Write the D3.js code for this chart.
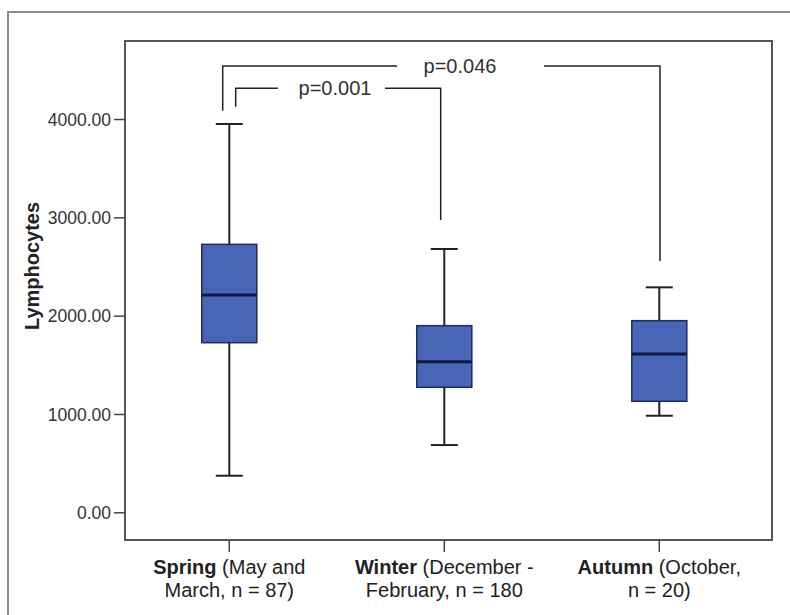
<!DOCTYPE html>
<html>
<head>
<meta charset="utf-8">
<script src="https://cdn.jsdelivr.net/npm/d3@7"></script>
<style>
  html, body { margin: 0; padding: 0; background: #fff; }
  svg { display: block; font-family: "Liberation Sans", Arial, sans-serif; }
</style>
</head>
<body>
<svg id="chart" width="790" height="615"></svg>
<script>
// ---- Data ----
const categories = ["Spring", "Winter", "Autumn"];
const labelBold = ["Spring", "Winter", "Autumn"];
const labelLine1Rest = [" (May and", " (December -", " (October,"];
const labelLine2 = ["March, n = 87)", "February, n = 180", "n = 20)"];
const whiskerLow = [372, 684, 982];
const q1 = [1725, 1271, 1129];
const median = [2210, 1532, 1610];
const q3 = [2725, 1898, 1949];
const whiskerHigh = [3949, 2678, 2288];
const yTicks = [0, 1000, 2000, 3000, 4000];
const yLabel = "Lymphocytes";
// comparisons: from category, to category, p label, bracket top value, leg end values
const cmpFrom = ["Spring", "Spring"];
const cmpTo = ["Winter", "Autumn"];
const cmpText = ["p=0.001", "p=0.046"];
const cmpTop = [4312, 4539];
const cmpFromEnd = [4125, 4084];
const cmpToEnd = [2973, 2556];

// ---- Layout ----
const svg = d3.select("#chart");
const plot = { left: 125, right: 772, top: 41, bottom: 540 };

const y = d3.scaleLinear().domain([0, 4000]).range([512.3, 119]);
const x = d3.scaleBand().domain(categories).range([121.8, 766.8]).paddingInner(0).paddingOuter(0);
const cx = c => x(c) + x.bandwidth() / 2;
const boxW = 55;
const capW = 27;

// outer frame
svg.append("path")
  .attr("d", "M8,615 V12 H790")
  .attr("fill", "none").attr("stroke", "#8a8a8a").attr("stroke-width", 2);

// plot frame
svg.append("rect")
  .attr("x", plot.left).attr("y", plot.top)
  .attr("width", plot.right - plot.left).attr("height", plot.bottom - plot.top)
  .attr("fill", "none").attr("stroke", "#555").attr("stroke-width", 2);

// y axis
const yAxis = d3.axisLeft(y).tickValues(yTicks).tickFormat(d3.format(".2f")).tickSize(11).tickSizeOuter(0);
const yg = svg.append("g").attr("transform", `translate(${plot.left},0)`).call(yAxis);
yg.select(".domain").remove();
yg.selectAll(".tick line").attr("stroke", "#444").attr("stroke-width", 1.5).attr("x2", -11).attr("x1", 0);
yg.selectAll(".tick line").attr("x2", -11);
yg.selectAll(".tick text").attr("font-size", "17.5px").attr("fill", "#333")
  .attr("font-family", "'Liberation Sans', Arial, sans-serif").attr("x", -14).attr("dy", "0.36em");

// x axis
const xAxis = d3.axisBottom(x).tickSize(12).tickSizeOuter(0).tickFormat("");
const xg = svg.append("g").attr("transform", `translate(0,${plot.bottom})`).call(xAxis);
xg.select(".domain").remove();
xg.selectAll(".tick line").attr("stroke", "#444").attr("stroke-width", 1.5);

// x labels
categories.forEach((c, i) => {
  const t = svg.append("text")
    .attr("x", cx(c)).attr("y", 574)
    .attr("text-anchor", "middle").attr("font-size", "20px").attr("fill", "#222");
  t.append("tspan").attr("font-weight", "bold").text(labelBold[i]);
  t.append("tspan").text(labelLine1Rest[i]);
  svg.append("text")
    .attr("x", cx(c)).attr("y", 597)
    .attr("text-anchor", "middle").attr("font-size", "20px").attr("fill", "#222")
    .text(labelLine2[i]);
});

// y label
svg.append("text")
  .attr("transform", `translate(39,266) rotate(-90)`)
  .attr("text-anchor", "middle").attr("font-size", "20px").attr("font-weight", "bold").attr("fill", "#222")
  .text(yLabel);

// boxes
const g = svg.append("g");
categories.forEach((c, i) => {
  const xc = cx(c);
  g.append("line").attr("x1", xc).attr("x2", xc).attr("y1", y(whiskerHigh[i])).attr("y2", y(q3[i]))
    .attr("stroke", "#222").attr("stroke-width", 2);
  g.append("line").attr("x1", xc).attr("x2", xc).attr("y1", y(q1[i])).attr("y2", y(whiskerLow[i]))
    .attr("stroke", "#222").attr("stroke-width", 2);
  g.append("line").attr("x1", xc - capW / 2).attr("x2", xc + capW / 2).attr("y1", y(whiskerHigh[i])).attr("y2", y(whiskerHigh[i]))
    .attr("stroke", "#222").attr("stroke-width", 2);
  g.append("line").attr("x1", xc - capW / 2).attr("x2", xc + capW / 2).attr("y1", y(whiskerLow[i])).attr("y2", y(whiskerLow[i]))
    .attr("stroke", "#222").attr("stroke-width", 2);
  g.append("rect").attr("x", xc - boxW / 2).attr("y", y(q3[i]))
    .attr("width", boxW).attr("height", y(q1[i]) - y(q3[i]))
    .attr("fill", "#4766b6").attr("stroke", "#1c2b5e").attr("stroke-width", 1.5);
  g.append("line").attr("x1", xc - boxW / 2).attr("x2", xc + boxW / 2).attr("y1", y(median[i])).attr("y2", y(median[i]))
    .attr("stroke", "#0e1a44").attr("stroke-width", 3);
});

// comparison brackets
const legOffsetFrom = [6.4, -6.6];
const legOffsetTo = [-3.6, 0.7];
const textCenter = [335, 460];
const gapLeft = [57, 63];
const gapRight = [50, 84];
cmpText.forEach((txt, i) => {
  const x1 = cx(cmpFrom[i]) + legOffsetFrom[i];
  const x2 = cx(cmpTo[i]) + legOffsetTo[i];
  const yt = y(cmpTop[i]);
  const tc = textCenter[i];
  g.append("path")
    .attr("d", `M${x1},${y(cmpFromEnd[i])} V${yt} H${tc - gapLeft[i]}`)
    .attr("fill", "none").attr("stroke", "#222").attr("stroke-width", 1.5);
  g.append("path")
    .attr("d", `M${tc + gapRight[i]},${yt} H${x2} V${y(cmpToEnd[i])}`)
    .attr("fill", "none").attr("stroke", "#222").attr("stroke-width", 1.5);
  svg.append("text").attr("x", tc).attr("y", yt).attr("dy", "0.35em")
    .attr("text-anchor", "middle").attr("font-size", "20px").attr("fill", "#333")
    .text(txt);
});
</script>
</body>
</html>
